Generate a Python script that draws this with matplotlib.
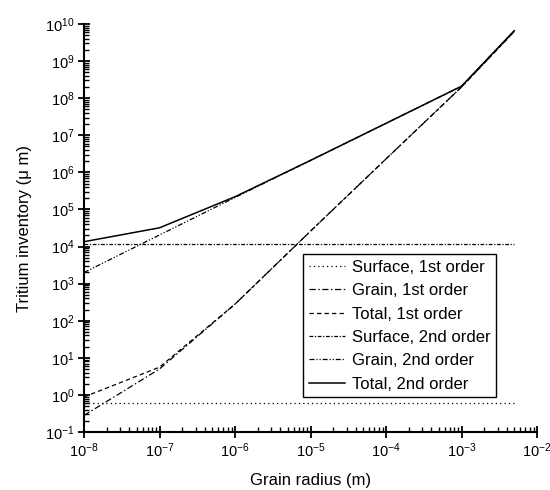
import matplotlib
matplotlib.use("Agg")
import matplotlib.pyplot as plt
import numpy as np

plt.rcParams['font.family'] = ['Liberation Sans', 'DejaVu Sans']
plt.rcParams['mathtext.fontset'] = 'custom'
plt.rcParams['mathtext.rm'] = 'Liberation Sans'
plt.rcParams['mathtext.it'] = 'Liberation Sans:italic'
plt.rcParams['mathtext.bf'] = 'Liberation Sans:bold'
plt.rcParams['axes.unicode_minus'] = False

# Data (grain radius in m, inventory in um)
radius = [1e-8, 1e-7, 1e-6, 1e-5, 1e-4, 1e-3, 5e-3]
surface_1st = [0.6, 0.6, 0.6, 0.6, 0.6, 0.6, 0.6]
grain_1st = [0.28, 5.0, 2.8e2, 2.6e4, 2.3e6, 2.0e8, 6.3e9]
total_1st = [0.88, 5.6, 2.8e2, 2.6e4, 2.3e6, 2.0e8, 6.3e9]
surface_2nd = [1.15e4, 1.15e4, 1.15e4, 1.15e4, 1.15e4, 1.15e4, 1.15e4]
grain_2nd = [2.0e3, 2.05e4, 2.1e5, 2.1e6, 2.1e7, 2.1e8, 6.6e9]
total_2nd = [1.35e4, 3.2e4, 2.2e5, 2.1e6, 2.1e7, 2.1e8, 6.6e9]

labels = ["Surface, 1st order", "Grain, 1st order", "Total, 1st order",
          "Surface, 2nd order", "Grain, 2nd order", "Total, 2nd order"]

fig = plt.figure(figsize=(5.5, 4.9), dpi=100)
ax = fig.add_axes([84/550, 1-432/490, (537-84)/550, (432-24)/490])

lw = 0.9
ax.plot(radius, surface_1st, color='black', lw=lw, linestyle=(0, (1, 2.5)), label=labels[0])
ax.plot(radius, grain_1st, color='black', lw=lw, linestyle=(0, (5, 2, 1.2, 2)), label=labels[1])
ax.plot(radius, total_1st, color='black', lw=lw, linestyle=(0, (3.5, 2.5)), label=labels[2])
ax.plot(radius, surface_2nd, color='black', lw=lw, linestyle=(0, (3, 1.3, 1, 1.3)), label=labels[3])
ax.plot(radius, grain_2nd, color='black', lw=lw, linestyle=(0, (4, 1.5, 1, 1.5, 1, 1.5)), label=labels[4])
ax.plot(radius, total_2nd, color='black', lw=1.1, linestyle='-', label=labels[5])

ax.set_xscale('log')
ax.set_yscale('log')
ax.set_xlim(1e-8, 1e-2)
ax.set_ylim(1e-1, 1e10)

ax.xaxis.set_major_locator(matplotlib.ticker.LogLocator(base=10, numticks=20))
ax.yaxis.set_major_locator(matplotlib.ticker.LogLocator(base=10, numticks=20))
ax.xaxis.set_minor_locator(matplotlib.ticker.LogLocator(base=10, subs=np.arange(2, 10), numticks=100))
ax.yaxis.set_minor_locator(matplotlib.ticker.LogLocator(base=10, subs=np.arange(2, 10), numticks=100))
ax.xaxis.set_minor_formatter(matplotlib.ticker.NullFormatter())
ax.yaxis.set_minor_formatter(matplotlib.ticker.NullFormatter())

for s in ['top', 'right']:
    ax.spines[s].set_visible(False)
for s in ['left', 'bottom']:
    ax.spines[s].set_linewidth(1.5)

ax.tick_params(which='major', direction='inout', length=8, width=1.3, labelsize=10.5, pad=3)
ax.tick_params(which='minor', direction='in', length=3.5, width=1.0)

ax.set_xlabel("Grain radius (m)", fontsize=12, labelpad=9)
ax.set_ylabel("Tritium inventory (\u03bc m)", fontsize=12, labelpad=9)

leg = ax.legend(loc='upper left', bbox_to_anchor=(0.483, 0.436), borderaxespad=0,
                fontsize=12, handlelength=2.2, handletextpad=0.4, labelspacing=0.5,
                borderpad=0.35, fancybox=False, framealpha=1, edgecolor='black')
leg.get_frame().set_linewidth(1.0)

fig.savefig("out.png", dpi=100)
